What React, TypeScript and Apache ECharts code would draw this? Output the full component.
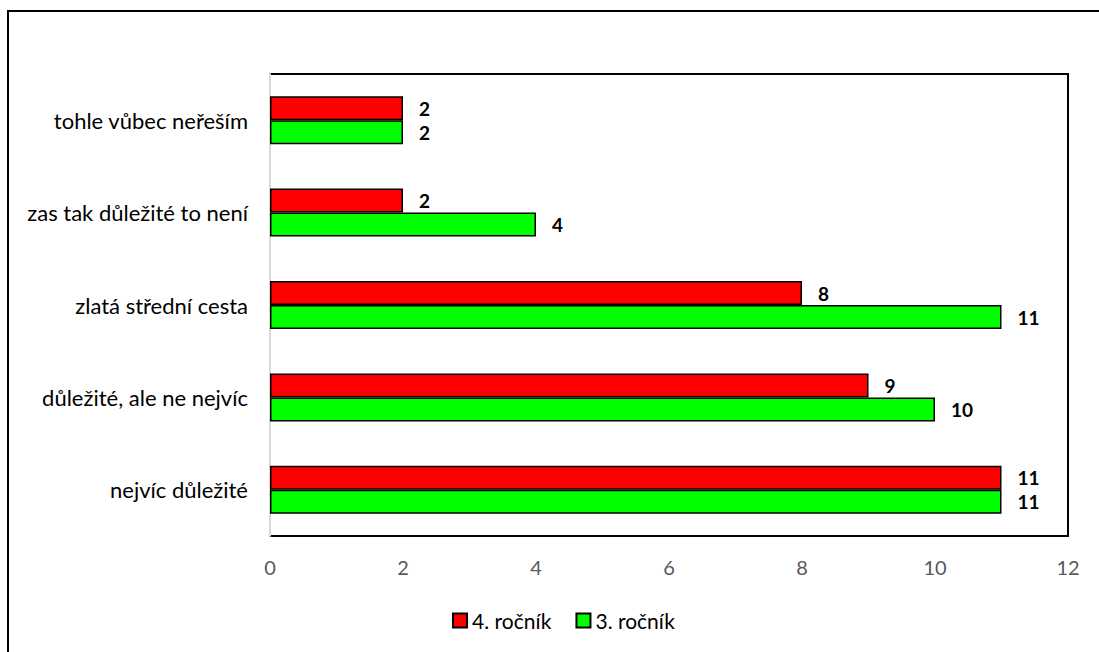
import React, { useEffect, useRef } from "react";
import * as echarts from "echarts";

const categories = [
  "nejvíc důležité",
  "důležité, ale ne nejvíc",
  "zlatá střední cesta",
  "zas tak důležité to není",
  "tohle vůbec neřeším",
];
const rocnik4 = [11, 9, 8, 2, 2];
const rocnik3 = [11, 10, 11, 4, 2];
const seriesNames = ["4. ročník", "3. ročník"];
const xTicks = { min: 0, max: 12, interval: 2 };

const FONT = "Lato";

export default function App() {
  const ref = useRef<HTMLDivElement>(null);
  useEffect(() => {
    if (!ref.current) return;
    const chart = echarts.init(ref.current, null, { renderer: "svg" });
    const labelStyle = {
      show: true,
      position: "right" as const,
      distance: 16,
      color: "#000",
      fontWeight: "bold" as const,
      fontSize: 19,
      fontFamily: FONT,
    };
    chart.setOption({
      animation: false,
      graphic: [
        {
          type: "rect",
          shape: { x: 8, y: 11, width: 1300, height: 800 },
          style: { fill: "none", stroke: "#000", lineWidth: 2 },
          z: 100,
        },
      ],
      grid: {
        left: 270,
        right: 31,
        top: 74,
        bottom: 116,
        show: true,
        borderColor: "#000",
        borderWidth: 2,
        backgroundColor: "#fff",
      },
      legend: {
        data: seriesNames,
        top: 605,
        left: 447,
        itemWidth: 14,
        itemHeight: 14,
        itemGap: 24,
        textStyle: { fontSize: 21, fontFamily: FONT, color: "#000" },
        icon: "rect",
      },
      xAxis: {
        type: "value",
        min: xTicks.min,
        max: xTicks.max,
        interval: xTicks.interval,
        axisLine: { show: false },
        axisTick: { show: false },
        splitLine: { show: false },
        axisLabel: {
          color: "#595959",
          fontSize: 20,
          fontFamily: FONT,
          margin: 21,
        },
      },
      yAxis: {
        type: "category",
        data: categories,
        axisLine: { show: true, lineStyle: { color: "#d9d9d9", width: 2 } },
        axisTick: { show: false },
        axisLabel: {
          color: "#000",
          fontSize: 22,
          fontFamily: FONT,
          margin: 22,
        },
      },
      series: [
        {
          name: seriesNames[0],
          type: "bar",
          data: rocnik4,
          barWidth: 24,
          barGap: "0%",
          barCategoryGap: "47%",
          itemStyle: { color: "#ff0000", borderColor: "#000", borderWidth: 1.5 },
          label: labelStyle,
        },
        {
          name: seriesNames[1],
          type: "bar",
          data: rocnik3,
          barWidth: 24,
          barGap: "0%",
          barCategoryGap: "47%",
          itemStyle: { color: "#00ff00", borderColor: "#000", borderWidth: 1.5 },
          label: labelStyle,
        },
      ],
    });
    return () => chart.dispose();
  }, []);
  return (
    <div
      ref={ref}
      style={{ position: "absolute", left: 0, top: 0, width: 1099, height: 652 }}
    />
  );
}
